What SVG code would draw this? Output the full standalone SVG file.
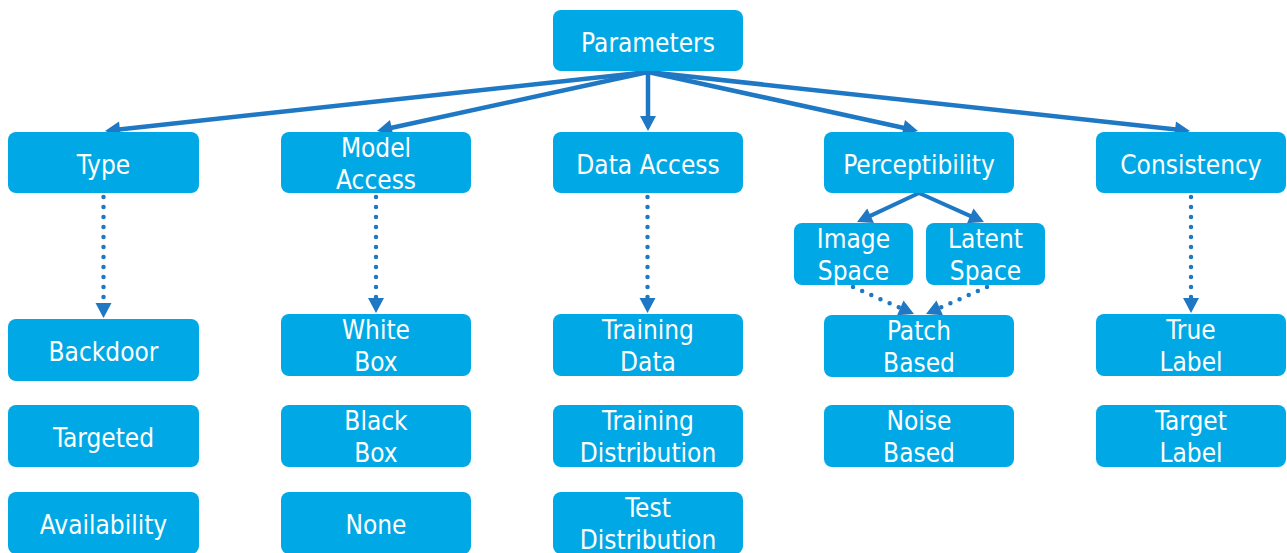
<svg xmlns="http://www.w3.org/2000/svg" width="1287" height="553" viewBox="0 0 1287 553">
<style>
.box{fill:#00A9E6;}
text{font-family:"DejaVu Sans Condensed","DejaVu Sans",sans-serif;font-stretch:condensed;font-size:26px;fill:#FFFFFF;text-anchor:middle;}
.solid{stroke:#1E78C3;stroke-width:4.5;fill:none;marker-end:url(#ah);}
.thin{stroke:#1E78C3;stroke-width:4;fill:none;marker-end:url(#ah);}
.dot{stroke:#1E78C3;stroke-width:4.5;fill:none;stroke-linecap:round;stroke-dasharray:0 10;marker-end:url(#ah);}
</style>
<defs>
<marker id="ah" markerUnits="userSpaceOnUse" markerWidth="18" markerHeight="18" refX="1" refY="8" orient="auto" overflow="visible">
<path d="M0,0 L15,8 L0,16 z" fill="#1E78C3"/>
</marker>
</defs>
<g id="connectors">
<line class="solid" x1="648" y1="72" x2="118.9" y2="129.5"/>
<line class="solid" x1="648" y1="72" x2="390.7" y2="128"/>
<line class="solid" x1="648" y1="72" x2="648" y2="117"/>
<line class="solid" x1="648" y1="72" x2="904.3" y2="128"/>
<line class="solid" x1="648" y1="72" x2="1176.1" y2="129.5"/>
<line class="thin" x1="919" y1="193" x2="869.7" y2="216.1"/>
<line class="thin" x1="919" y1="193" x2="971.2" y2="216.3"/>
<line class="dot" x1="103.5" y1="197" x2="103.5" y2="304"/>
<line class="dot" x1="376" y1="197" x2="376" y2="299"/>
<line class="dot" x1="647.5" y1="197" x2="647.5" y2="299"/>
<line class="dot" x1="1191" y1="197" x2="1191" y2="299"/>
<line class="dot" x1="853" y1="287" x2="901.2" y2="308.3"/>
<line class="dot" x1="987" y1="287" x2="938.8" y2="308.3"/>
</g>
<g id="n-parameters"><rect class="box" x="553" y="10" width="190" height="61" rx="8"/><text x="648" y="52">Parameters</text></g>
<g id="n-type"><rect class="box" x="8" y="132" width="191" height="61" rx="8"/><text x="103.5" y="174">Type</text></g>
<g id="n-model-access"><rect class="box" x="281" y="132" width="190" height="61" rx="8"/><text x="376" y="157">Model</text><text x="376" y="189">Access</text></g>
<g id="n-data-access"><rect class="box" x="553" y="132" width="190" height="61" rx="8"/><text x="648" y="174">Data Access</text></g>
<g id="n-perceptibility"><rect class="box" x="824" y="132" width="190" height="61" rx="8"/><text x="919" y="174">Perceptibility</text></g>
<g id="n-consistency"><rect class="box" x="1096" y="132" width="190" height="61" rx="8"/><text x="1191" y="174">Consistency</text></g>
<g id="n-image-space"><rect class="box" x="794" y="223" width="119" height="62" rx="8"/><text x="853.5" y="248">Image</text><text x="853.5" y="280">Space</text></g>
<g id="n-latent-space"><rect class="box" x="926" y="223" width="119" height="62" rx="8"/><text x="985.5" y="248">Latent</text><text x="985.5" y="280">Space</text></g>
<g id="n-backdoor"><rect class="box" x="8" y="319" width="191" height="62" rx="8"/><text x="103.5" y="361">Backdoor</text></g>
<g id="n-targeted"><rect class="box" x="8" y="405" width="191" height="62" rx="8"/><text x="103.5" y="447">Targeted</text></g>
<g id="n-availability"><rect class="box" x="8" y="492" width="191" height="62" rx="8"/><text x="103.5" y="534">Availability</text></g>
<g id="n-white-box"><rect class="box" x="281" y="314" width="190" height="62" rx="8"/><text x="376" y="339">White</text><text x="376" y="371">Box</text></g>
<g id="n-black-box"><rect class="box" x="281" y="405" width="190" height="62" rx="8"/><text x="376" y="430">Black</text><text x="376" y="462">Box</text></g>
<g id="n-none"><rect class="box" x="281" y="492" width="190" height="62" rx="8"/><text x="376" y="534">None</text></g>
<g id="n-training-data"><rect class="box" x="553" y="314" width="190" height="62" rx="8"/><text x="648" y="339">Training</text><text x="648" y="371">Data</text></g>
<g id="n-training-distribution"><rect class="box" x="553" y="405" width="190" height="62" rx="8"/><text x="648" y="430">Training</text><text x="648" y="462">Distribution</text></g>
<g id="n-test-distribution"><rect class="box" x="553" y="492" width="190" height="62" rx="8"/><text x="648" y="517">Test</text><text x="648" y="549">Distribution</text></g>
<g id="n-patch-based"><rect class="box" x="824" y="315" width="190" height="62" rx="8"/><text x="919" y="340">Patch</text><text x="919" y="372">Based</text></g>
<g id="n-noise-based"><rect class="box" x="824" y="405" width="190" height="62" rx="8"/><text x="919" y="430">Noise</text><text x="919" y="462">Based</text></g>
<g id="n-true-label"><rect class="box" x="1096" y="314" width="190" height="62" rx="8"/><text x="1191" y="339">True</text><text x="1191" y="371">Label</text></g>
<g id="n-target-label"><rect class="box" x="1096" y="405" width="190" height="62" rx="8"/><text x="1191" y="430">Target</text><text x="1191" y="462">Label</text></g>
</svg>
